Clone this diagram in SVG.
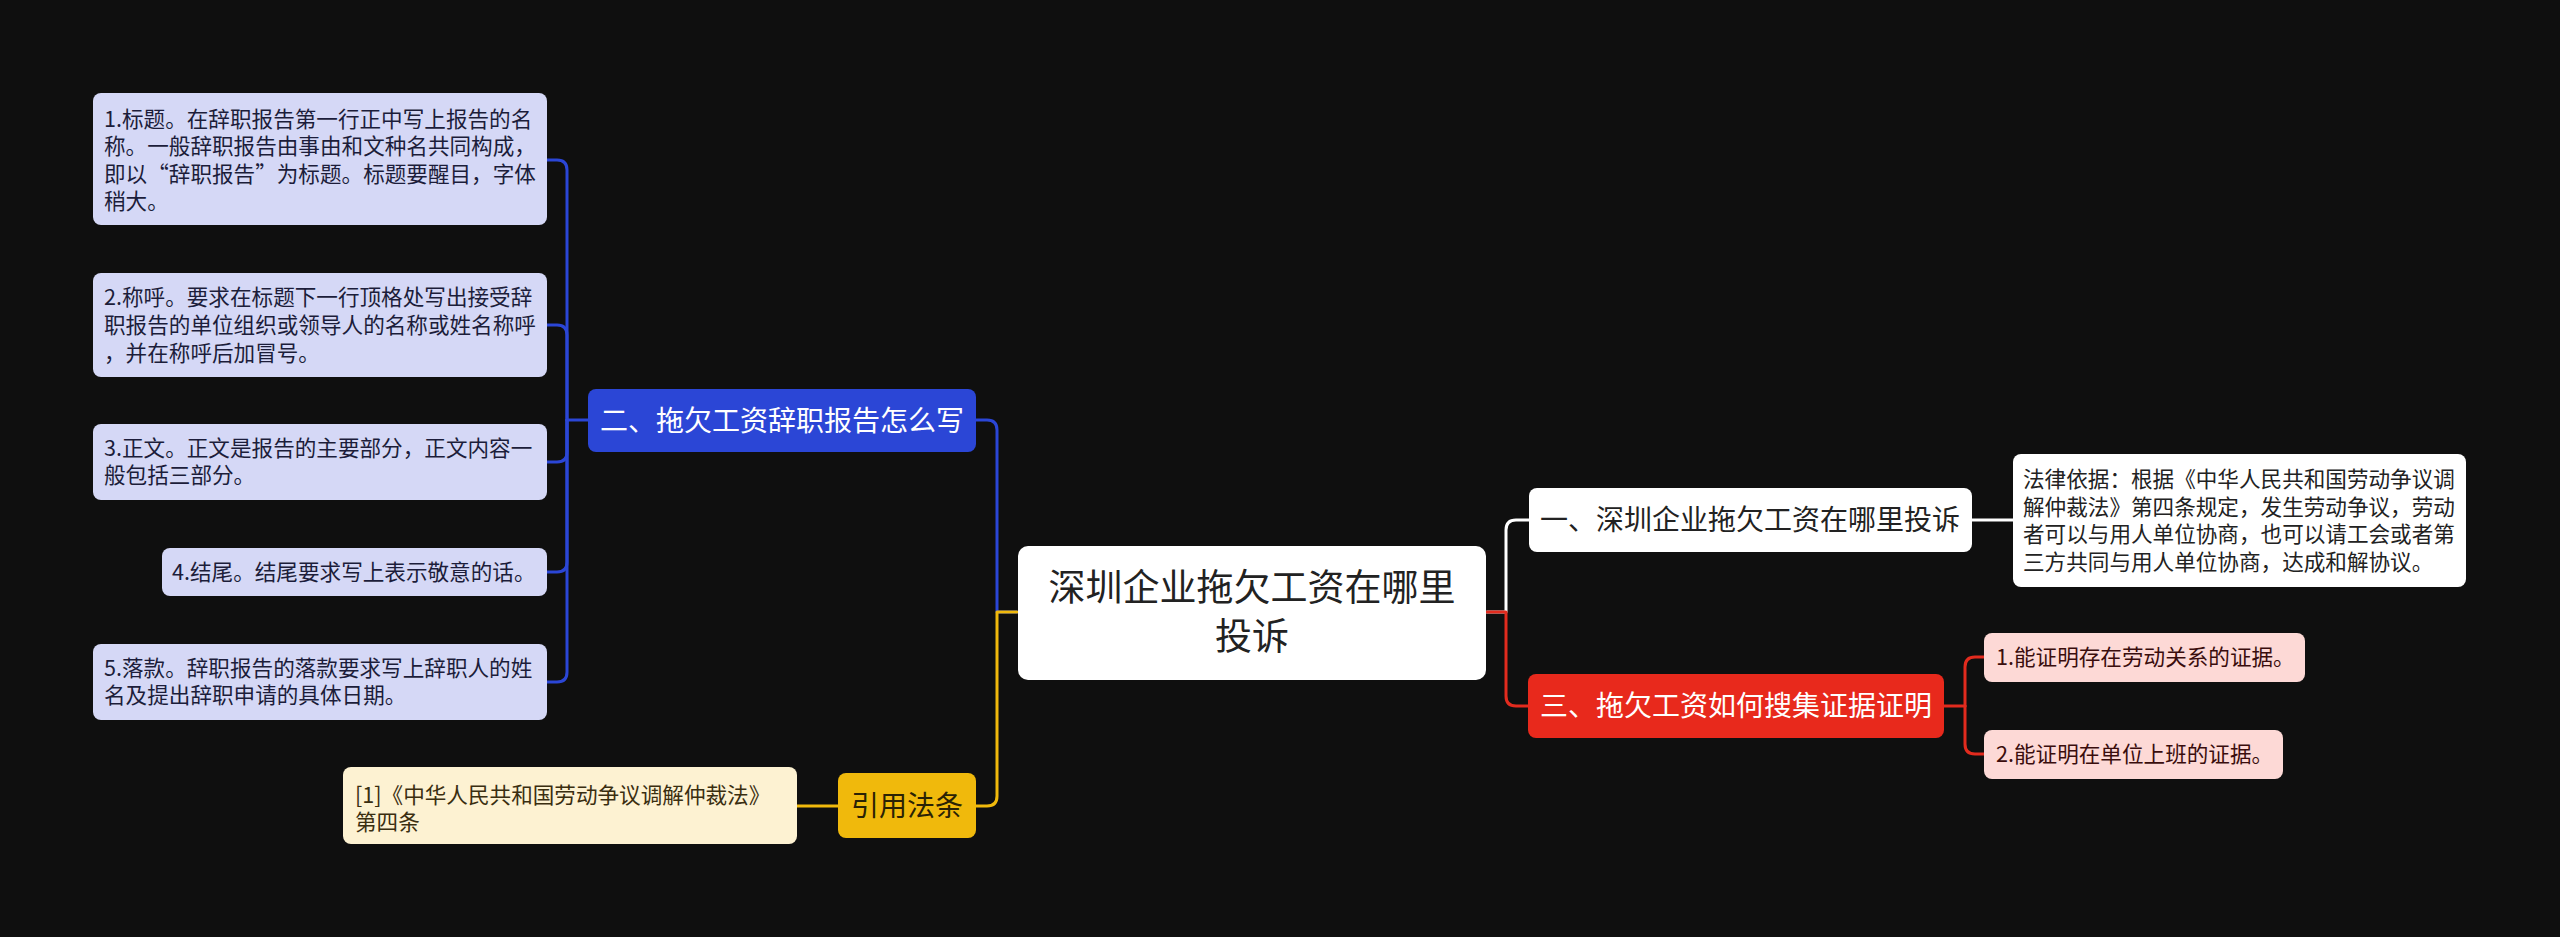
<svg xmlns="http://www.w3.org/2000/svg" width="2560" height="937" viewBox="0 0 2560 937">
<style>
text{font-family:"Noto Sans CJK SC","Noto Sans",sans-serif;}
.lk{fill:none;stroke-width:3;stroke-linecap:round;stroke-linejoin:round;}
.blue{stroke:#2b46d6;}
.yel{stroke:#f0b90c;}
.red{stroke:#e22b1e;}
.wht{stroke:#ffffff;}
.sm{font-size:21.6px;}
.md{font-size:28px;}
.lav{fill:#d5d8f6;}
.lavt{fill:#1c1d3a;}
</style>
<rect x="0" y="0" width="2560" height="937" fill="#0f0f0f"/>
<g id="connectors">
  <path class="lk blue" d="M976,420 H987 Q997,420 997,430 V612 H1017"/>
  <path class="lk yel" d="M1017,612 H997 V796 Q997,806 987,806 H976"/>
  <path class="lk yel" d="M797,806 H838"/>
  <path class="lk blue" d="M588,420 H567"/>
  <path class="lk blue" d="M567,420 V170 Q567,160 557,160 H547"/>
  <path class="lk blue" d="M567,420 V335 Q567,325 557,325 H547"/>
  <path class="lk blue" d="M567,420 V452 Q567,462 557,462 H547"/>
  <path class="lk blue" d="M567,420 V562 Q567,572 557,572 H547"/>
  <path class="lk blue" d="M567,420 V672 Q567,682 557,682 H547"/>
  <path class="lk wht" d="M1487,612 H1506 V530 Q1506,520 1516,520 H1529"/>
  <path class="lk wht" d="M1972,520 H2013"/>
  <path class="lk red" d="M1487,612 H1506 V696 Q1506,706 1516,706 H1528"/>
  <path class="lk red" d="M1944,706 H1965"/>
  <path class="lk red" d="M1965,706 V667 Q1965,657 1975,657 H1984"/>
  <path class="lk red" d="M1965,706 V744 Q1965,754 1975,754 H1984"/>
</g>
<g id="root">
  <rect x="1018" y="546" width="468" height="134" rx="10" fill="#ffffff"/>
  <text x="1252" y="601" font-size="37" fill="#222222" text-anchor="middle">深圳企业拖欠工资在哪里</text>
  <text x="1252" y="650" font-size="37" fill="#222222" text-anchor="middle">投诉</text>
</g>
<g id="n2">
  <rect x="588" y="389" width="388" height="63" rx="8" fill="#2b46d6"/>
  <text class="md" x="782" y="431" fill="#ffffff" text-anchor="middle">二、拖欠工资辞职报告怎么写</text>
</g>
<g id="n2-1">
  <rect class="lav" x="93" y="93" width="454" height="132" rx="8"/>
  <text class="sm lavt" x="104" y="126.5">1.标题。在辞职报告第一行正中写上报告的名</text>
  <text class="sm lavt" x="104" y="154">称。一般辞职报告由事由和文种名共同构成，</text>
  <text class="sm lavt" x="104" y="181.5">即以“辞职报告”为标题。标题要醒目，字体</text>
  <text class="sm lavt" x="104" y="209">稍大。</text>
</g>
<g id="n2-2">
  <rect class="lav" x="93" y="273" width="454" height="104" rx="8"/>
  <text class="sm lavt" x="104" y="305">2.称呼。要求在标题下一行顶格处写出接受辞</text>
  <text class="sm lavt" x="104" y="333">职报告的单位组织或领导人的名称或姓名称呼</text>
  <text class="sm lavt" x="104" y="361">，并在称呼后加冒号。</text>
</g>
<g id="n2-3">
  <rect class="lav" x="93" y="424" width="454" height="76" rx="8"/>
  <text class="sm lavt" x="104" y="455.5">3.正文。正文是报告的主要部分，正文内容一</text>
  <text class="sm lavt" x="104" y="483">般包括三部分。</text>
</g>
<g id="n2-4">
  <rect class="lav" x="162" y="548" width="385" height="48" rx="8"/>
  <text class="sm lavt" x="172" y="579.5">4.结尾。结尾要求写上表示敬意的话。</text>
</g>
<g id="n2-5">
  <rect class="lav" x="93" y="644" width="454" height="76" rx="8"/>
  <text class="sm lavt" x="104" y="675.5">5.落款。辞职报告的落款要求写上辞职人的姓</text>
  <text class="sm lavt" x="104" y="703">名及提出辞职申请的具体日期。</text>
</g>
<g id="law">
  <rect x="838" y="773" width="138" height="65" rx="8" fill="#f0b90c"/>
  <text class="md" x="907" y="815.5" fill="#2a2205" text-anchor="middle">引用法条</text>
</g>
<g id="law-1">
  <rect x="343" y="767" width="454" height="77" rx="8" fill="#fdf2d2"/>
  <text class="sm" x="355" y="802.5" fill="#3a2e10">[1]《中华人民共和国劳动争议调解仲裁法》</text>
  <text class="sm" x="355" y="830" fill="#3a2e10">第四条</text>
</g>
<g id="n1">
  <rect x="1529" y="488" width="443" height="64" rx="8" fill="#ffffff"/>
  <text class="md" x="1750" y="530" fill="#222222" text-anchor="middle">一、深圳企业拖欠工资在哪里投诉</text>
</g>
<g id="n1-1">
  <rect x="2013" y="454" width="453" height="133" rx="8" fill="#ffffff"/>
  <text class="sm" x="2023" y="487" fill="#222222">法律依据：根据《中华人民共和国劳动争议调</text>
  <text class="sm" x="2023" y="514.5" fill="#222222">解仲裁法》第四条规定，发生劳动争议，劳动</text>
  <text class="sm" x="2023" y="542" fill="#222222">者可以与用人单位协商，也可以请工会或者第</text>
  <text class="sm" x="2023" y="569.5" fill="#222222">三方共同与用人单位协商，达成和解协议。</text>
</g>
<g id="n3">
  <rect x="1528" y="674" width="416" height="64" rx="8" fill="#e8291c"/>
  <text class="md" x="1736" y="716" fill="#ffffff" text-anchor="middle">三、拖欠工资如何搜集证据证明</text>
</g>
<g id="n3-1">
  <rect x="1984" y="633" width="321" height="49" rx="8" fill="#fdd9d6"/>
  <text class="sm" x="1996" y="664.5" fill="#3a0d0d">1.能证明存在劳动关系的证据。</text>
</g>
<g id="n3-2">
  <rect x="1984" y="730" width="299" height="49" rx="8" fill="#fdd9d6"/>
  <text class="sm" x="1996" y="761.5" fill="#3a0d0d">2.能证明在单位上班的证据。</text>
</g>
</svg>
